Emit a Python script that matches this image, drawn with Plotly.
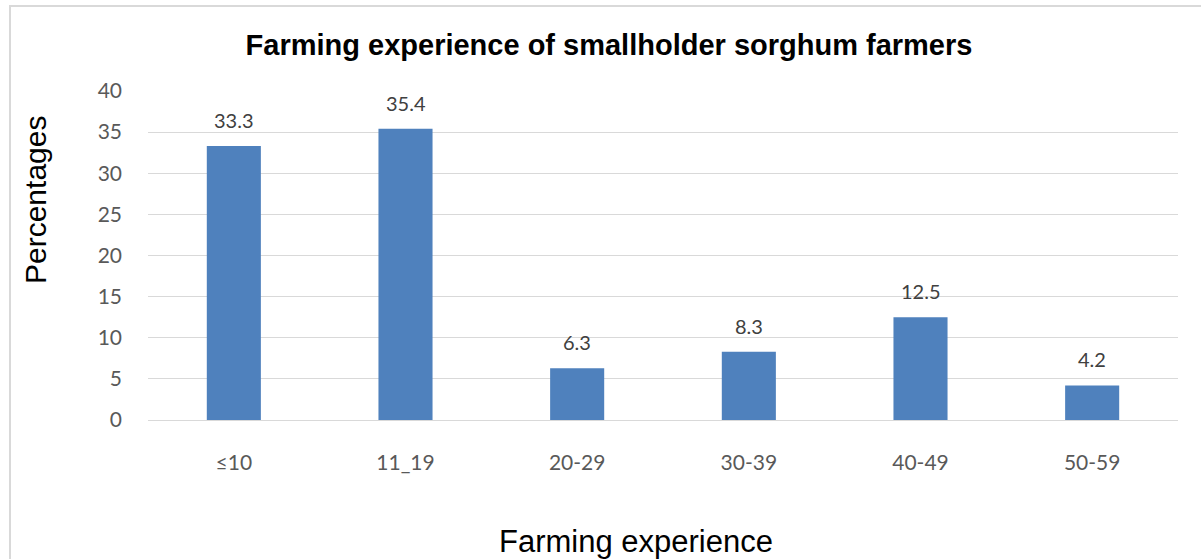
import plotly.graph_objects as go

categories = ["≤10", "11_19", "20-29", "30-39", "40-49", "50-59"]
percentages = [33.3, 35.4, 6.3, 8.3, 12.5, 4.2]
y_ticks = [0, 5, 10, 15, 20, 25, 30, 35, 40]

W, H = 1201, 559
L, R, T, B = 148, 23, 91, 139
pw, ph = W - L - R, H - T - B

def px_x(p):
    return (p - L) / pw

def px_y(p):
    return (H - B - p) / ph

LABEL_FONT = "Lato, Calibri, Carlito, Liberation Sans, Arial"

fig = go.Figure()
fig.add_trace(go.Bar(
    x=categories, y=percentages,
    marker=dict(color="#4f81bd", line=dict(width=0)),
    hoverinfo="x+y",
))

for c, v in zip(categories, percentages):
    fig.add_annotation(x=c, y=v, text=f"{v:.1f}", showarrow=False,
                       xanchor="center", yanchor="middle", yshift=26,
                       font=dict(family=LABEL_FONT, size=20, color="#404040"))

fig.update_layout(
    width=W, height=H,
    margin=dict(l=L, r=R, t=T, b=B),
    paper_bgcolor="white", plot_bgcolor="white",
    bargap=0.685,
    showlegend=False,
    title=dict(text="<b>Farming experience of smallholder sorghum farmers</b>",
               x=609 / W, xanchor="center",
               y=1 - 45 / H, yanchor="middle", yref="container",
               font=dict(family="Liberation Sans, Arial", size=29, color="black")),
    xaxis=dict(showgrid=False, showline=False, zeroline=False,
               tickfont=dict(family=LABEL_FONT, size=21, color="#595959"),
               ticklabelstandoff=28),
    yaxis=dict(range=[0, 40], tickvals=y_ticks, showgrid=True, gridcolor="#d9d9d9", gridwidth=1,
               zeroline=True, zerolinecolor="#d9d9d9", zerolinewidth=1,
               showline=False,
               tickfont=dict(family=LABEL_FONT, size=21, color="#595959"),
               ticklabelstandoff=25),
    font=dict(family="Liberation Sans, Arial"),
)

fig.add_shape(type="rect", xref="paper", yref="paper",
              x0=px_x(10), x1=px_x(1215), y0=px_y(575), y1=px_y(6),
              line=dict(color="#d9d9d9", width=2), fillcolor="rgba(0,0,0,0)", layer="below")

fig.add_annotation(text="Percentages", xref="paper", yref="paper",
                   x=px_x(35), y=px_y(200), textangle=-90, showarrow=False,
                   xanchor="center", yanchor="middle",
                   font=dict(family="Liberation Sans, Arial", size=30, color="black"))
fig.add_annotation(text="Farming experience", xref="paper", yref="paper",
                   x=px_x(636), y=px_y(541), showarrow=False,
                   xanchor="center", yanchor="middle",
                   font=dict(family="Liberation Sans, Arial", size=31, color="black"))

fig.write_html("out.html", config={"displayModeBar": False},
               post_script="document.body.style.margin='0';document.body.style.overflow='hidden';")
